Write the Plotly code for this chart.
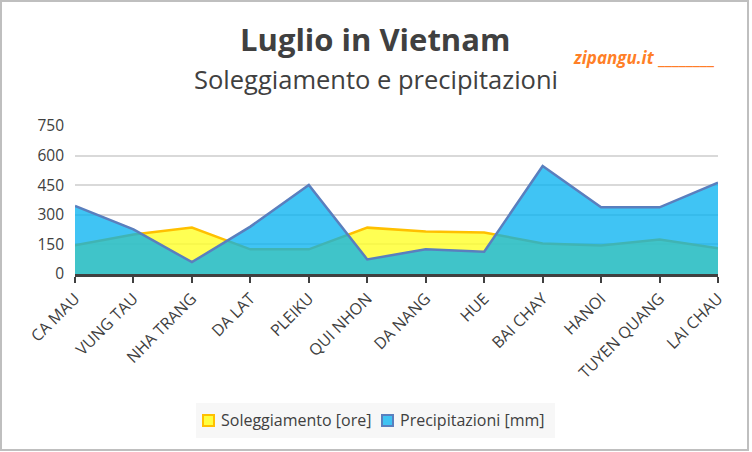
import plotly.graph_objects as go

cities = ["CA MAU", "VUNG TAU", "NHA TRANG", "DA LAT", "PLEIKU", "QUI NHON",
          "DA NANG", "HUE", "BAI CHAY", "HANOI", "TUYEN QUANG", "LAI CHAU"]
sole = [145, 200, 235, 125, 125, 235, 215, 210, 155, 145, 175, 130]
prec = [345, 226, 60, 240, 451, 74, 125, 113, 547, 338, 338, 463]
yticks = [0, 150, 300, 450, 600, 750]
series_names = ["Soleggiamento [ore]", "Precipitazioni [mm]"]

W, H = 752, 452
ml, mr, mt, mb = 75, 34, 126, 178
pw, ph = W - ml - mr, H - mt - mb

def px(x):
    return (x - ml) / pw

def py(y):
    return (H - mb - y) / ph

FONT = "Open Sans"
TXT = "#404040"

fig = go.Figure()
fig.add_trace(go.Scatter(
    x=cities, y=sole, name=series_names[0], mode="lines",
    fill="tozeroy", fillcolor="rgba(255,255,40,0.8)",
    line=dict(color="#FFC000", width=2.5), showlegend=False))
fig.add_trace(go.Scatter(
    x=cities, y=prec, name=series_names[1], mode="lines",
    fill="tozeroy", fillcolor="rgba(0,176,240,0.75)",
    line=dict(color="#5A7FBE", width=2.5), showlegend=False))

fig.update_layout(
    width=W, height=H,
    margin=dict(l=ml, r=mr, t=mt, b=mb),
    paper_bgcolor="white", plot_bgcolor="white",
    font=dict(family=FONT, color=TXT, size=14),
    showlegend=False,
    xaxis=dict(range=[0, 11], showgrid=False, showline=True, linecolor="#404040",
               linewidth=3, ticks="outside", ticklen=6, tickwidth=2, tickcolor="#404040",
               tickangle=-45, tickfont=dict(size=16, color=TXT, family=FONT)),
    yaxis=dict(range=[0, 750], tickvals=yticks, showgrid=True, gridcolor="#D9D9D9",
               gridwidth=2, zeroline=False, showline=False,
               tickfont=dict(size=15.5, color=TXT, family=FONT), ticks="", ticklabelstandoff=10),
)

# custom legend
fig.add_shape(type="rect", xref="paper", yref="paper",
              x0=px(196), x1=px(555), y0=py(438), y1=py(403),
              line=dict(width=0), fillcolor="#F7F7F7", layer="below")
fig.add_shape(type="rect", xref="paper", yref="paper",
              x0=px(203), x1=px(214), y0=py(426), y1=py(415),
              line=dict(color="#FFC000", width=2), fillcolor="#FFFF40")
fig.add_shape(type="rect", xref="paper", yref="paper",
              x0=px(382), x1=px(393), y0=py(426), y1=py(415),
              line=dict(color="#5A7FBE", width=2), fillcolor="#3FC3F3")
fig.add_annotation(text=series_names[0], x=px(219), y=py(420), xref="paper", yref="paper",
                   showarrow=False, font=dict(size=16, color=TXT, family=FONT),
                   xanchor="left", yanchor="middle")
fig.add_annotation(text=series_names[1], x=px(398), y=py(420), xref="paper", yref="paper",
                   showarrow=False, font=dict(size=16, color=TXT, family=FONT),
                   xanchor="left", yanchor="middle")

fig.add_annotation(text="<b>Luglio in Vietnam</b>", x=px(375), y=py(39), xref="paper", yref="paper",
                   showarrow=False, font=dict(size=31, color=TXT, family=FONT),
                   xanchor="center", yanchor="middle")
fig.add_annotation(text="Soleggiamento e precipitazioni", x=px(376), y=py(79), xref="paper", yref="paper",
                   showarrow=False, font=dict(size=25.5, color=TXT, family=FONT),
                   xanchor="center", yanchor="middle")
fig.add_annotation(text="<b><i>zipangu.it</i> ________</b>", x=px(571), y=py(57), xref="paper", yref="paper",
                   showarrow=False, font=dict(size=17, color="#FF7F27", family=FONT),
                   xanchor="left", yanchor="middle")
fig.add_shape(type="rect", xref="paper", yref="paper",
              x0=px(1), x1=px(748), y0=py(450), y1=py(1),
              line=dict(color="#BFBFBF", width=2), fillcolor="rgba(0,0,0,0)", layer="below")

fig.write_html("out.html")
